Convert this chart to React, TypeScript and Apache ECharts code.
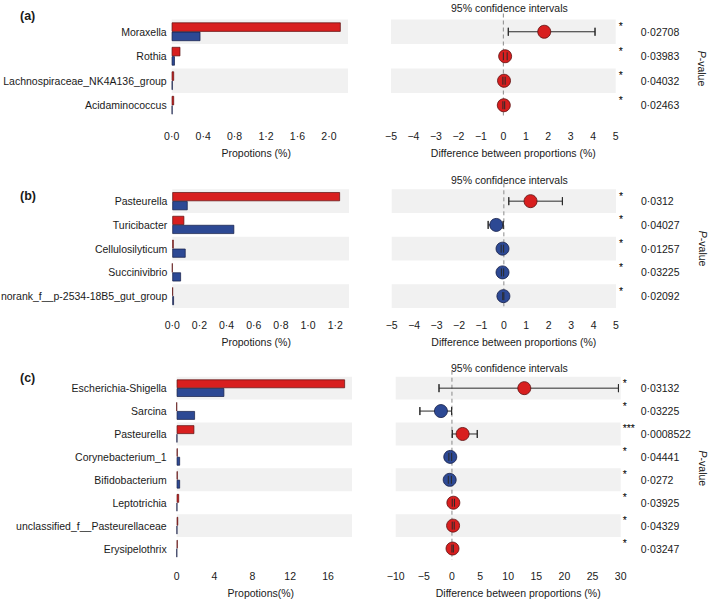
import React, { useEffect, useRef } from 'react';
import * as echarts from 'echarts';

// ---------- data ----------
// Panel (a)
const catsA = ['Moraxella', 'Rothia', 'Lachnospiraceae_NK4A136_group', 'Acidaminococcus'];
const redA = [2.15, 0.11, 0.03, 0.03];
const blueA = [0.365, 0.04, 0.012, 0.01];
const diffA = [1.82, 0.08, 0.03, 0.02];
const lowA = [0.22, 0.0, -0.02, -0.02];
const highA = [4.08, 0.17, 0.08, 0.06];
const pA = ['0·02708', '0·03983', '0·04032', '0·02463'];
const starsA = ['*', '*', '*', '*'];
const propLabelsA = [0, 0.4, 0.8, 1.2, 1.6, 2.0];
const ciLabelsA = [-5, -4, -3, -2, -1, 0, 1, 2, 3, 4, 5];

// Panel (b)
const catsB = ['Pasteurella', 'Turicibacter', 'Cellulosilyticum', 'Succinivibrio', 'norank_f__p-2534-18B5_gut_group'];
const redB = [1.235, 0.088, 0.01, 0, 0.005];
const blueB = [0.113, 0.456, 0.098, 0.064, 0.012];
const diffB = [1.19, -0.34, -0.06, -0.06, -0.02];
const lowB = [0.22, -0.7, -0.12, -0.11, -0.05];
const highB = [2.61, -0.03, -0.01, -0.01, 0.0];
const pB = ['0·0312', '0·04027', '0·01257', '0·03225', '0·02092'];
const starsB = ['*', '*', '*', '*', '*'];
const propLabelsB = [0, 0.2, 0.4, 0.6, 0.8, 1.0, 1.2];
const ciLabelsB = [-5, -4, -3, -2, -1, 0, 1, 2, 3, 4, 5];

// Panel (c)
const catsC = ['Escherichia-Shigella', 'Sarcina', 'Pasteurella', 'Corynebacterium_1', 'Bifidobacterium', 'Leptotrichia', 'unclassified_f__Pasteurellaceae', 'Erysipelothrix'];
const redC = [17.8, 0, 1.86, 0.1, 0.1, 0.25, 0.15, 0.1];
const blueC = [5.03, 1.93, 0.05, 0.35, 0.35, 0.05, 0.05, 0.02];
const diffC = [12.86, -1.96, 1.9, -0.3, -0.4, 0.25, 0.2, 0.1];
const lowC = [-2.3, -5.7, 0.06, -0.55, -0.65, 0.05, 0.05, 0.0];
const highC = [29.6, -0.06, 4.5, -0.05, -0.1, 0.45, 0.4, 0.25];
const pC = ['0·03132', '0·03225', '0·0008522', '0·04441', '0·0272', '0·03925', '0·04329', '0·03247'];
const starsC = ['*', '*', '***', '*', '*', '*', '*', '*'];
const propLabelsC = [0, 4, 8, 12, 16];
const ciLabelsC = [-10, -5, 0, 5, 10, 15, 20, 25, 30];

// ---------- styles / layout ----------
const FONT = '"Liberation Sans", Arial, Helvetica, sans-serif';
const FS = 10.5;
const RED = '#d81f1f';
const BLUE = '#2d4994';
const RED_BORDER = '#5a1010';
const BLUE_BORDER = '#141d45';
const BAND = '#f1f1f1';
const TXT = '#1a1a1a';
const AX = '#444';

const panels = [
  {
    label: '(a)', cats: catsA, red: redA, blue: blueA, diff: diffA, low: lowA, high: highA, p: pA, stars: starsA,
    propLabels: propLabelsA, ciLabels: ciLabelsA, propName: 'Propotions (%)', dec: 1,
    propMax: 2.15, propInterval: 0.2, ciMin: -5, ciMax: 5, ciInterval: 1,
    L: { top: 19.5, height: 98, offset: 9.5, barLeft: 171.7, barW: 169, bandW: 176.3, labelMargin: 5, ciLeft: 391, ciW: 224.7, titleTop: 2, panelTop: 9, starMargin: 3, pMargin: 25, pGap: 81 },
  },
  {
    label: '(b)', cats: catsB, red: redB, blue: blueB, diff: diffB, low: lowB, high: highB, p: pB, stars: starsB,
    propLabels: propLabelsB, ciLabels: ciLabelsB, propName: 'Propotions (%)', dec: 1,
    propMax: 1.235, propInterval: 0.1, ciMin: -5, ciMax: 5, ciInterval: 1,
    L: { top: 189.3, height: 118.7, offset: 8, barLeft: 172.3, barW: 167.7, bandW: 176.7, labelMargin: 5, ciLeft: 391.7, ciW: 224.3, titleTop: 174, panelTop: 189, starMargin: 3, pMargin: 25, pGap: 81 },
  },
  {
    label: '(c)', cats: catsC, red: redC, blue: blueC, diff: diffC, low: lowC, high: highC, p: pC, stars: starsC,
    propLabels: propLabelsC, ciLabels: ciLabelsC, propName: 'Propotions(%)', dec: 0,
    propMax: 17.8, propInterval: 2, ciMin: -10, ciMax: 30, ciInterval: 5,
    L: { top: 376.7, height: 183.3, offset: 7, barLeft: 176.7, barW: 168.3, bandW: 175.3, labelMargin: 10, ciLeft: 395.7, ciW: 225, titleTop: 362, panelTop: 371, starMargin: 2, pMargin: 20, pGap: 76.5 },
  },
];

function buildOption() {
  const grid: any[] = [];
  const xAxis: any[] = [];
  const yAxis: any[] = [];
  const series: any[] = [];
  const graphic: any[] = [];

  panels.forEach((pn) => {
    const L = pn.L;
    const g0 = grid.length;
    const gBase = { top: L.top, height: L.height, containLabel: false, outerBoundsMode: 'none' };
    grid.push({ ...gBase, left: L.barLeft, width: L.bandW });
    grid.push({ ...gBase, left: L.barLeft, width: L.barW });
    grid.push({ ...gBase, left: L.ciLeft, width: L.ciW });

    const x0 = xAxis.length;
    xAxis.push({ type: 'value', gridIndex: g0, show: false, min: 0, max: 1 });
    xAxis.push({
      type: 'value', gridIndex: g0 + 1, min: 0, max: pn.propMax, interval: pn.propInterval, offset: L.offset,
      name: pn.propName, nameLocation: 'middle', nameGap: 20,
      nameTextStyle: { fontSize: FS, color: TXT, fontFamily: FONT },
      axisLine: { lineStyle: { color: AX, width: 1 } },
      axisTick: { inside: true, length: 5, lineStyle: { color: AX } },
      splitLine: { show: false },
      axisLabel: {
        margin: 3, fontSize: FS, color: TXT, fontFamily: FONT, showMaxLabel: true,
        formatter: (v: number) => pn.propLabels.some((t) => Math.abs(t - v) < 1e-6) ? v.toFixed(pn.dec).replace('.', '·') : '',
      },
    });
    xAxis.push({
      type: 'value', gridIndex: g0 + 2, min: pn.ciMin, max: pn.ciMax, interval: pn.ciInterval, offset: L.offset,
      name: 'Difference between proportions (%)', nameLocation: 'middle', nameGap: 20,
      nameTextStyle: { fontSize: FS, color: TXT, fontFamily: FONT, padding: [0, 0, 0, 20] },
      axisLine: { lineStyle: { color: AX, width: 1 } },
      axisTick: { inside: true, length: 5, lineStyle: { color: AX } },
      splitLine: { show: false },
      axisLabel: {
        margin: 3, fontSize: FS, color: TXT, fontFamily: FONT,
        formatter: (v: number) => pn.ciLabels.some((t) => Math.abs(t - v) < 1e-6) ? (v < 0 ? '\u2212' + Math.abs(v) : String(v)) : '',
      },
    });

    const y0 = yAxis.length;
    yAxis.push({
      type: 'category', gridIndex: g0, data: pn.cats, inverse: true,
      axisLine: { show: false }, axisTick: { show: false }, axisLabel: { show: false },
      splitArea: { show: true, areaStyle: { color: [BAND, 'rgba(255,255,255,0)'] } },
    });
    yAxis.push({
      type: 'category', gridIndex: g0 + 1, data: pn.cats, inverse: true,
      axisLine: { show: false }, axisTick: { show: false },
      axisLabel: { margin: L.labelMargin, fontSize: FS, color: TXT, fontFamily: FONT },
    });
    yAxis.push({
      type: 'category', gridIndex: g0 + 2, data: pn.cats, inverse: true,
      axisLine: { show: false }, axisTick: { show: false }, axisLabel: { show: false },
      splitArea: { show: true, areaStyle: { color: [BAND, 'rgba(255,255,255,0)'] } },
    });
    yAxis.push({
      type: 'category', gridIndex: g0 + 2, data: pn.cats, inverse: true, position: 'right',
      axisLine: { show: false }, axisTick: { show: false },
      axisLabel: {
        margin: L.starMargin, fontSize: 10.5, color: '#000', fontFamily: FONT, verticalAlign: 'bottom',
        formatter: (_v: string, i: number) => pn.stars[i],
      },
    });
    yAxis.push({
      type: 'category', gridIndex: g0 + 2, data: pn.cats, inverse: true, position: 'right',
      axisLine: { show: false }, axisTick: { show: false },
      axisLabel: {
        margin: L.pMargin, fontSize: FS, color: TXT, fontFamily: FONT,
        formatter: (_v: string, i: number) => pn.p[i],
      },
      name: '{i|P}-value', nameLocation: 'middle', nameRotate: -90, nameGap: L.pGap,
      nameTextStyle: { fontSize: FS, color: TXT, fontFamily: FONT, rich: { i: { fontStyle: 'italic', fontSize: FS, fontFamily: FONT, color: TXT } } },
    });

    // band-grid dummy series so its axes have data
    series.push({ type: 'bar', xAxisIndex: x0, yAxisIndex: y0, data: pn.cats.map(() => 0), silent: true, itemStyle: { opacity: 0 } });

    const barCommon = { type: 'bar', xAxisIndex: x0 + 1, yAxisIndex: y0 + 1, barGap: '0%', barCategoryGap: '24%' };
    series.push({ ...barCommon, data: pn.red, itemStyle: { color: RED, borderColor: RED_BORDER, borderWidth: 0.7 } });
    series.push({ ...barCommon, data: pn.blue, itemStyle: { color: BLUE, borderColor: BLUE_BORDER, borderWidth: 0.7 } });

    const ebData = pn.cats.map((_c, i) => [pn.low[i], pn.high[i], i]);
    const mkRender = (withLine: boolean) => (params: any, api: any) => {
      const lo = api.coord([api.value(0), api.value(2)]);
      const hi = api.coord([api.value(1), api.value(2)]);
      const h = 4;
      const st = { stroke: '#2a2a2a', lineWidth: 1 };
      const children: any[] = [
        { type: 'line', shape: { x1: lo[0], y1: lo[1] - h, x2: lo[0], y2: lo[1] + h }, style: st },
        { type: 'line', shape: { x1: hi[0], y1: hi[1] - h, x2: hi[0], y2: hi[1] + h }, style: st },
      ];
      if (withLine) children.push({ type: 'line', shape: { x1: lo[0], y1: lo[1], x2: hi[0], y2: hi[1] }, style: st });
      return { type: 'group', children };
    };
    // zero reference line
    series.push({
      type: 'custom', xAxisIndex: x0 + 2, yAxisIndex: y0 + 2, data: [[0, 0]], encode: { x: 0, y: 1 }, z: 1, silent: true,
      renderItem: (params: any, api: any) => {
        const pt = api.coord([api.value(0), 0]);
        const cs = params.coordSys;
        return { type: 'line', shape: { x1: pt[0], y1: cs.y - 6, x2: pt[0], y2: cs.y + cs.height }, style: { stroke: '#8a8a8a', lineWidth: 1, lineDash: [4, 3] } };
      },
    });
    series.push({
      type: 'custom', xAxisIndex: x0 + 2, yAxisIndex: y0 + 2, data: ebData, encode: { x: [0, 1], y: 2 },
      renderItem: mkRender(true), z: 2,
    });
    series.push({
      type: 'scatter', xAxisIndex: x0 + 2, yAxisIndex: y0 + 2, symbolSize: 13, z: 3,
      data: pn.diff.map((d, i) => ({
        value: [d, i],
        itemStyle: { color: d > 0 ? RED : BLUE, borderColor: d > 0 ? RED_BORDER : BLUE_BORDER, borderWidth: 0.8, opacity: 1 },
      })),
    });
    series.push({
      type: 'custom', xAxisIndex: x0 + 2, yAxisIndex: y0 + 2, data: ebData, encode: { x: [0, 1], y: 2 },
      renderItem: mkRender(false), z: 4,
    });

    graphic.push({
      type: 'text', x: 20, y: L.panelTop, silent: true,
      style: { text: pn.label, fill: TXT, font: `bold 12.5px ${FONT}`, textVerticalAlign: 'top' },
    });
    graphic.push({
      type: 'text', x: 451, y: L.titleTop, silent: true,
      style: { text: '95% confidence intervals', fill: TXT, font: `${FS}px ${FONT}`, textVerticalAlign: 'top' },
    });
  });

  return {
    animation: false,
    backgroundColor: '#ffffff',
    textStyle: { fontFamily: FONT },
    graphic, grid, xAxis, yAxis, series,
  };
}

export default function App() {
  const ref = useRef<HTMLDivElement>(null);
  useEffect(() => {
    if (!ref.current) return;
    const chart = echarts.init(ref.current, undefined, { renderer: 'svg' });
    chart.setOption(buildOption() as any);
    return () => chart.dispose();
  }, []);
  return <div ref={ref} style={{ position: 'fixed', left: 0, top: 0, width: 709, height: 602, background: '#fff' }} />;
}
